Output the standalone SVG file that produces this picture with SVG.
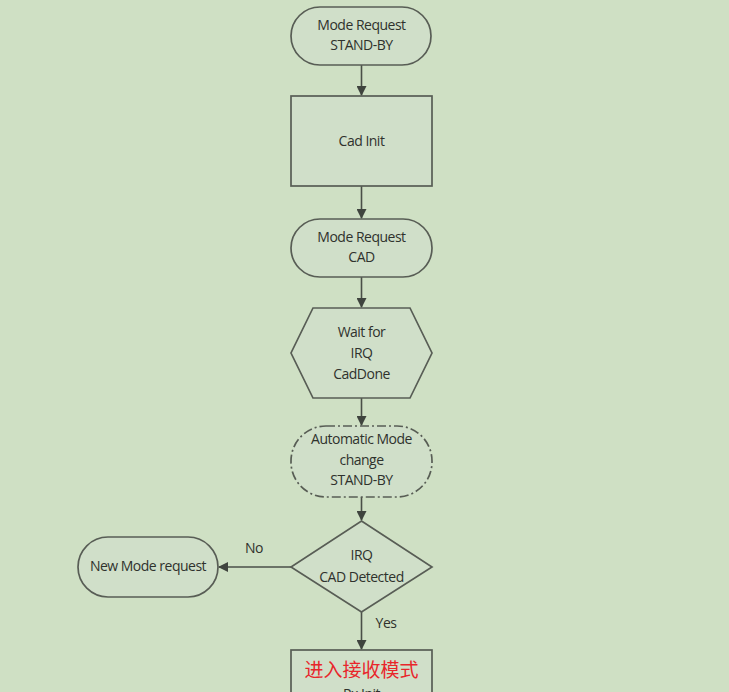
<svg xmlns="http://www.w3.org/2000/svg" width="729" height="692" viewBox="0 0 729 692">
<defs>
<style>
.s{fill:#d0dfc9;stroke:#585d55;stroke-width:1.7}
.t{font-family:"Open Sans","Liberation Sans",sans-serif;font-size:14px;fill:#2f322d;text-anchor:middle;letter-spacing:-0.5px}
.c{stroke:#4a4f48;stroke-width:1.6;fill:none}
.cn{font-family:"Noto Sans CJK SC",sans-serif;font-size:19px;fill:#e8262b;text-anchor:middle}
</style>
<marker id="ah" markerWidth="10" markerHeight="10" refX="9" refY="5" orient="auto" markerUnits="userSpaceOnUse">
<path d="M0,0 L10,5 L0,10 z" fill="#3f443e"/>
</marker>
</defs>
<rect width="729" height="692" fill="#cfe0c4"/>
<g id="connectors">
<line class="c" x1="361.5" y1="65" x2="361.5" y2="95" marker-end="url(#ah)"/>
<line class="c" x1="361.5" y1="186" x2="361.5" y2="218" marker-end="url(#ah)"/>
<line class="c" x1="361.5" y1="277" x2="361.5" y2="307" marker-end="url(#ah)"/>
<line class="c" x1="361.5" y1="398" x2="361.5" y2="425" marker-end="url(#ah)"/>
<line class="c" x1="361.5" y1="497" x2="361.5" y2="520" marker-end="url(#ah)"/>
<line class="c" x1="291" y1="567" x2="219" y2="567" marker-end="url(#ah)"/>
<text class="t" x="254" y="553">No</text>
<line class="c" x1="361.5" y1="612" x2="361.5" y2="649" marker-end="url(#ah)"/>
<text class="t" x="386" y="628">Yes</text>
</g>
<g id="n1">
<rect class="s" x="291" y="7" width="140" height="58" rx="29"/>
<text class="t" x="361.5" y="30">Mode Request</text>
<text class="t" x="361.5" y="50">STAND-BY</text>
</g>
<g id="n2">
<rect class="s" x="291" y="96" width="141" height="90"/>
<text class="t" x="361.5" y="146">Cad Init</text>
</g>
<g id="n3">
<rect class="s" x="291" y="219" width="141" height="58" rx="29"/>
<text class="t" x="361.5" y="242">Mode Request</text>
<text class="t" x="361.5" y="262">CAD</text>
</g>
<g id="n4">
<polygon class="s" points="313,308 410,308 432,353 410,398 313,398 291,353"/>
<text class="t" x="361.5" y="337">Wait for</text>
<text class="t" x="361.5" y="358">IRQ</text>
<text class="t" x="361.5" y="379">CadDone</text>
</g>
<g id="n5">
<rect class="s" x="291" y="426" width="141" height="71" rx="35" style="stroke-dasharray:9,3,2,3"/>
<text class="t" x="361.5" y="444">Automatic Mode</text>
<text class="t" x="361.5" y="465">change</text>
<text class="t" x="361.5" y="485">STAND-BY</text>
</g>
<g id="n6">
<polygon class="s" points="361.5,521 432,567 361.5,612 291,567"/>
<text class="t" x="361.5" y="560">IRQ</text>
<text class="t" x="361.5" y="582">CAD Detected</text>
</g>
<g id="n7">
<rect class="s" x="78" y="537" width="140" height="60" rx="30"/>
<text class="t" x="148" y="571">New Mode request</text>
</g>
<g id="n8">
<rect class="s" x="291" y="650" width="141" height="60"/>
<text class="cn" x="361.5" y="677">进入接收模式</text>
<text class="t" x="361.5" y="699">Rx Init</text>
</g>
</svg>
